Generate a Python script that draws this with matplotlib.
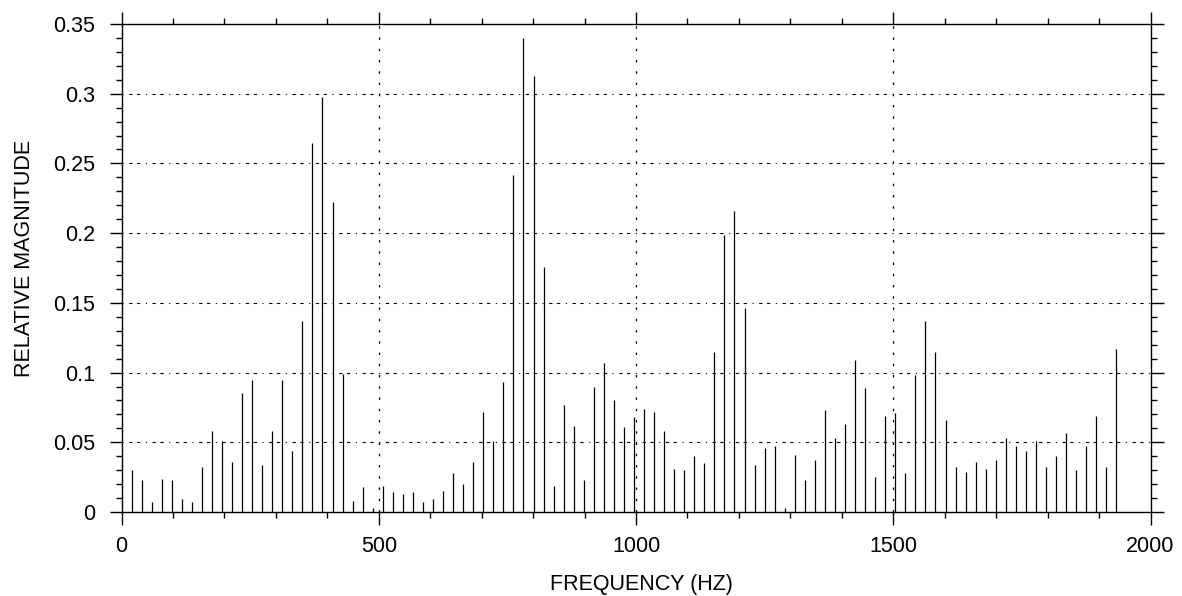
import numpy as np
import matplotlib
matplotlib.use("Agg")
import matplotlib.pyplot as plt
from matplotlib.ticker import MultipleLocator

# ---- data ----
bin_hz = 19.53125                      # spectral line spacing (Hz)
bin_index = list(range(1, 100))        # harmonic/bin numbers 1..99
magnitudes = [
    0.030, 0.023, 0.007, 0.024, 0.023, 0.009, 0.007, 0.032, 0.058, 0.051,
    0.036, 0.085, 0.095, 0.034, 0.058, 0.095, 0.044, 0.137, 0.265, 0.298,
    0.222, 0.099, 0.008, 0.018, 0.003, 0.019, 0.014, 0.013, 0.014, 0.007,
    0.009, 0.015, 0.028, 0.020, 0.036, 0.072, 0.051, 0.093, 0.242, 0.340,
    0.313, 0.176, 0.019, 0.077, 0.062, 0.023, 0.090, 0.107, 0.080, 0.061,
    0.068, 0.074, 0.072, 0.058, 0.031, 0.030, 0.040, 0.035, 0.115, 0.199,
    0.216, 0.146, 0.034, 0.046, 0.047, 0.003, 0.041, 0.023, 0.037, 0.073,
    0.053, 0.063, 0.109, 0.089, 0.025, 0.069, 0.071, 0.028, 0.098, 0.137,
    0.115, 0.066, 0.032, 0.029, 0.036, 0.031, 0.037, 0.053, 0.047, 0.044,
    0.051, 0.032, 0.040, 0.057, 0.030, 0.047, 0.069, 0.032, 0.117,
]
x_ticks = [0, 500, 1000, 1500, 2000]
x_tick_labels = ["0", "500", "1000", "1500", "2000"]
y_ticks = [0, 0.05, 0.1, 0.15, 0.2, 0.25, 0.3, 0.35]
y_tick_labels = ["0", "0.05", "0.1", "0.15", "0.2", "0.25", "0.3", "0.35"]
x_label = "FREQUENCY (HZ)"
y_label = "RELATIVE MAGNITUDE"

freqs = np.array(bin_index) * bin_hz

plt.rcParams["font.family"] = ["Liberation Sans", "DejaVu Sans"]

W, H = 1182, 596
fig = plt.figure(figsize=(W / 100, H / 100), dpi=100)
L, R, T, B = 121.5, 1150.5, 24, 512
ax = fig.add_axes([L / W, 1 - B / H, (R - L) / W, (B - T) / H])

ax.set_xlim(0, 2000)
ax.set_ylim(0, 0.35)

# grid lines
for gx in [500, 1000, 1500]:
    ax.axvline(gx, color="black", lw=0.9, dashes=(2, 7), zorder=1)
for gy in [0.05, 0.1, 0.15, 0.2, 0.25, 0.3]:
    ax.axhline(gy, color="black", lw=0.8, dashes=(1, 5, 3, 4, 3, 5), zorder=1)

# stems
ax.vlines(freqs, 0, magnitudes, color="black", lw=0.9, zorder=2)

# ticks
ax.set_xticks(x_ticks)
ax.set_xticklabels(x_tick_labels)
ax.set_yticks(y_ticks)
ax.set_yticklabels(y_tick_labels)
ax.xaxis.set_minor_locator(MultipleLocator(100))
ax.yaxis.set_minor_locator(MultipleLocator(0.01))
ax.tick_params(which="major", direction="out", length=9, width=1.0,
               top=True, right=True, labelsize=15.5, colors="black")
ax.tick_params(which="minor", direction="out", length=4.5, width=1.0,
               top=True, right=True)
ax.tick_params(axis="x", which="major", pad=8)
ax.tick_params(axis="y", which="major", pad=10)

for s in ax.spines.values():
    s.set_linewidth(1.0)
    s.set_color("black")

ax.set_xlabel(x_label, fontsize=15.5)
ax.set_ylabel(y_label, fontsize=15.5)
ax.xaxis.set_label_coords(0.505, -0.127)
ax.yaxis.set_label_coords(-0.084, 0.519)

fig.savefig("out.png", dpi=100)
